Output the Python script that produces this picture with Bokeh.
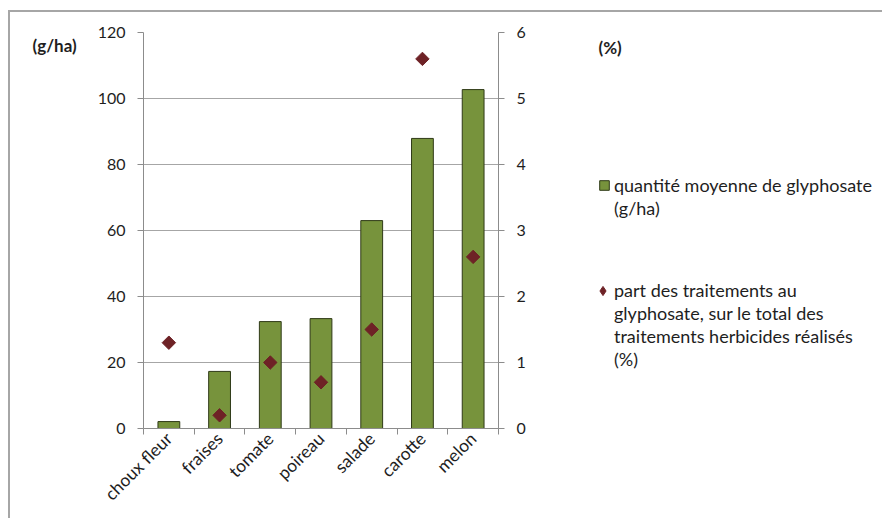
import math
from bokeh.plotting import figure
from bokeh.layouts import row
from bokeh.models import (Range1d, LinearAxis, FixedTicker, Label, Legend,
                          LegendItem, ColumnDataSource, Grid)
from bokeh.embed import file_html
from bokeh.resources import INLINE

categories = ["choux fleur", "fraises", "tomate", "poireau", "salade", "carotte", "melon"]
quantite = [2.1, 17.3, 32.4, 33.3, 63.0, 87.9, 102.7]      # g/ha
part = [1.3, 0.2, 1.0, 0.7, 1.5, 5.6, 2.6]                 # %
left_ticks = [0, 20, 40, 60, 80, 100, 120]
right_ticks = [0, 1, 2, 3, 4, 5, 6]
left_unit = "(g/ha)"
right_unit = "(%)"
legend_bar = ["quantité moyenne de glyphosate", "(g/ha)"]
legend_pt = ["part des traitements au", "glyphosate, sur le total des",
             "traitements herbicides réalisés", "(%)"]

FONT = "Lato"
TXT = "#1e1e1e"
AX = "#8c8c8c"
BAR_FILL = "#77933C"
BAR_LINE = "#2f3a17"
PT = "#6E2226"
H = 518
TOP, BOTTOM = 32, 90          # borders shared by the three panels
FRAME_H = H - TOP - BOTTOM    # 396


def blank(width):
    f = figure(width=width, height=H, output_backend="svg", toolbar_location=None,
               x_range=Range1d(-2, -1), y_range=Range1d(-2, -1),
               x_axis_type=None, y_axis_type=None,
               min_border_left=0, min_border_right=0,
               min_border_top=TOP, min_border_bottom=BOTTOM)
    f.outline_line_color = None
    f.background_fill_color = None
    f.border_fill_color = None
    return f


def sy(page_y):
    """page pixel row -> screen units measured up from the frame bottom"""
    return (TOP + FRAME_H) - page_y


xs = [i + 0.5 for i in range(len(categories))]
source = ColumnDataSource(dict(x=xs, q=quantite, pct=part, cat=categories))

# ---- left strip with unit label
fa = blank(90)
fa.add_layout(Label(x=32, y=sy(45), x_units="screen", y_units="screen", text=left_unit,
                    text_font=FONT, text_font_style="bold", text_font_size="17px",
                    text_color=TXT, text_baseline="middle"))

# ---- main chart
p = figure(width=468, height=H, output_backend="svg", toolbar_location=None,
           x_range=Range1d(0, len(categories)), y_range=Range1d(0, 120),
           x_axis_type=None, y_axis_type=None,
           min_border_left=53, min_border_right=60, min_border_top=TOP, min_border_bottom=BOTTOM)
p.outline_line_color = None
p.background_fill_color = None
p.border_fill_color = None
p.extra_y_ranges = {"pct": Range1d(0, 6)}

ly_ticker = FixedTicker(ticks=left_ticks)
p.add_layout(Grid(dimension=1, ticker=ly_ticker, grid_line_color="#a6a6a6", grid_line_width=1))

p.vbar(x="x", top="q", bottom=0, width=0.43, source=source,
       fill_color=BAR_FILL, line_color=BAR_LINE, line_width=1)
p.scatter(x="x", y="pct", source=source, y_range_name="pct", marker="square",
          size=9.5, angle=math.pi / 4, fill_color=PT, line_color=PT)

xaxis = LinearAxis(ticker=FixedTicker(ticks=xs, minor_ticks=list(range(len(categories) + 1))),
                   major_label_overrides={x: c for x, c in zip(xs, categories)},
                   major_tick_line_color=None, major_tick_out=6, major_tick_in=0,
                   minor_tick_out=6, minor_tick_in=0, minor_tick_line_color=AX,
                   axis_line_color=AX, major_label_orientation=math.pi / 4,
                   major_label_standoff=1, major_label_text_font=FONT,
                   major_label_text_font_size="17.5px", major_label_text_color=TXT)
p.add_layout(xaxis, "below")

yaxis = LinearAxis(ticker=ly_ticker, major_tick_out=6, major_tick_in=0,
                   major_tick_line_color=AX, minor_tick_line_color=None,
                   axis_line_color=AX, major_label_standoff=12,
                   major_label_text_font=FONT, major_label_text_font_size="16px",
                   major_label_text_color=TXT)
p.add_layout(yaxis, "left")

raxis = LinearAxis(y_range_name="pct", ticker=FixedTicker(ticks=right_ticks),
                   major_tick_out=6, major_tick_in=0,
                   major_tick_line_color=AX, minor_tick_line_color=None,
                   axis_line_color=AX, major_label_standoff=12,
                   major_label_text_font=FONT, major_label_text_font_size="16px",
                   major_label_text_color=TXT)
p.add_layout(raxis, "right")

# ---- right strip: unit label + legend (legend glyphs share the data, kept off-view)
fc = blank(324)
fc.add_layout(Label(x=40, y=sy(47), x_units="screen", y_units="screen", text=right_unit,
                    text_font=FONT, text_font_style="bold", text_font_size="17px",
                    text_color=TXT, text_baseline="middle"))
lg_bar = fc.vbar(x="x", top="q", bottom=0, width=0.43, source=source,
                 fill_color=BAR_FILL, line_color=BAR_LINE, line_width=1)
lg_pt = fc.scatter(x="x", y="pct", source=source, marker="diamond", size=9.5,
                   fill_color=PT, line_color=PT)
lg_none = fc.scatter(x="x", y="pct", source=source, fill_alpha=0, line_alpha=0)

LH = 23
common = dict(padding=0, margin=0, spacing=0, border_line_color=None,
              background_fill_alpha=0, label_height=LH,
              label_text_font=FONT, label_text_font_size="18px", label_text_color=TXT)


def make_legend(lines, rend, first_center, x, glyph, standoff):
    its = [LegendItem(label=lines[0], renderers=[rend])]
    its += [LegendItem(label=t, renderers=[lg_none]) for t in lines[1:]]
    bottom = first_center - LH / 2 + len(lines) * LH
    return Legend(items=its, location=(x, sy(bottom)), glyph_width=glyph,
                  glyph_height=glyph, label_standoff=standoff, **common)


fc.add_layout(make_legend(legend_bar, lg_bar, 185, 40, 12, 4))
fc.add_layout(make_legend(legend_pt, lg_pt, 290, 33, 23, 0))

layout = row(fa, p, fc, spacing=0)
layout.styles = {
    "background": "linear-gradient(#a6a6a6,#a6a6a6) 8px 10px / 2px 100% no-repeat, "
                  "linear-gradient(#a6a6a6,#a6a6a6) 8px 10px / 100% 2px no-repeat, #ffffff"
}

open("out.html", "w").write(file_html(layout, INLINE))
